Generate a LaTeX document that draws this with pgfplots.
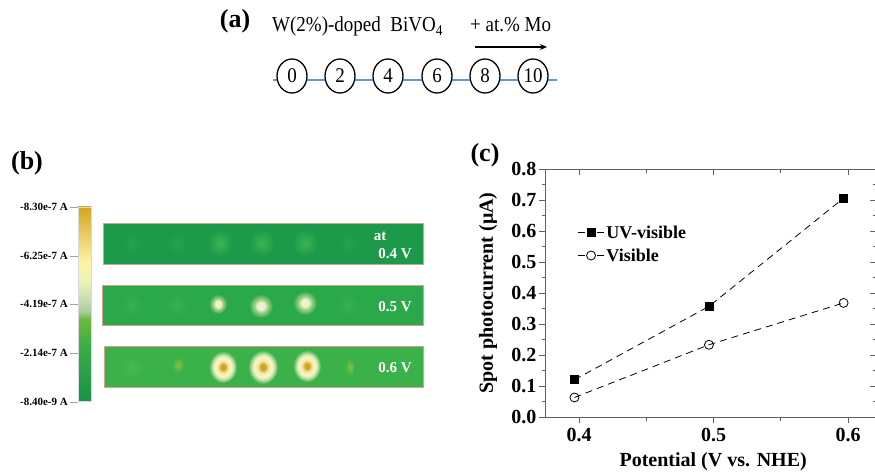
\documentclass[border=0pt]{standalone}
\usepackage{pgfplots}
\pgfplotsset{compat=1.18}
\usepackage{fontspec}
\setmainfont{Liberation Serif}
\usetikzlibrary{arrows.meta}
\newcommand\fs[1]{\fontsize{#1}{#1}\selectfont}

\definecolor{lineblue}{HTML}{5B9BD5}
\definecolor{sone}{HTML}{1C9A49}
\definecolor{stwo}{HTML}{2BA94A}
\definecolor{sthree}{HTML}{3BB14A}
\definecolor{spgold}{HTML}{D4A024}
\definecolor{spyel}{HTML}{F3E9A0}
\definecolor{spcream}{HTML}{F8F6CC}
\definecolor{spwhite}{HTML}{EEF2D2}
\definecolor{spmid}{HTML}{A6D48A}
\definecolor{border}{HTML}{D8A090}
\definecolor{cbA}{HTML}{17934A}
\definecolor{cbB}{HTML}{3BAD48}
\definecolor{cbC}{HTML}{6CB83C}
\definecolor{cbD}{HTML}{A8CC98}
\definecolor{cbE}{HTML}{C4D8B4}
\definecolor{cbF}{HTML}{EAF2B4}
\definecolor{cbG}{HTML}{FBF5A6}
\definecolor{cbH}{HTML}{ECCD6A}
\definecolor{cbI}{HTML}{D4A520}
\definecolor{axgray}{HTML}{606060}
\definecolor{fone}{HTML}{27A24E}
\definecolor{fonebig}{HTML}{3DB454}
\definecolor{ftwo}{HTML}{38B050}
\definecolor{fthree}{HTML}{4AB94E}
\definecolor{fthreey}{HTML}{86C23C}

\pgfdeclareradialshading{bigspot}{\pgfpointorigin}{color(0bp)=(spgold); color(4bp)=(spgold); color(9bp)=(spyel); color(15bp)=(spcream); color(19bp)=(spcream!70!sthree); color(25bp)=(sthree); color(50bp)=(sthree)}
\pgfdeclareradialshading{midspot}{\pgfpointorigin}{color(0bp)=(spwhite); color(8bp)=(spwhite); color(13bp)=(spmid); color(25bp)=(stwo); color(50bp)=(stwo)}
\pgfdeclareverticalshading{cbar}{100bp}{color(0bp)=(cbA); color(25bp)=(cbA); color(39bp)=(cbB); color(46bp)=(cbC); color(48bp)=(cbD); color(50.5bp)=(cbE); color(55.5bp)=(cbF); color(60.5bp)=(cbG); color(67.5bp)=(cbH); color(75bp)=(cbI); color(100bp)=(cbI)}

\begin{document}
\begin{tikzpicture}
\begin{scope}[x=1pt,y=-1pt]
% ---------- panel (a)
\node[font=\fs{26}\bfseries] at (235,21) {(a)};
\node[font=\fs{19}, anchor=base west, inner sep=0pt, yscale=1.12] at (272,32) {W(2\%)-doped\ \ BiVO\textsubscript{4}};
\node[font=\fs{19}, anchor=base west, inner sep=0pt, yscale=1.12] at (470,32) {+ at.\% Mo};
\draw[line width=1.4pt, -{Stealth[length=7pt,width=6pt]}] (475,47) -- (547,47);
\draw[lineblue, line width=1.6pt] (273,80) -- (557,80);
\foreach \x/\t in {292/0,340/2,388/4,437/6,485/8,533/10}{
  \draw[black, line width=1.3pt, fill=white] (\x,76) ellipse (15 and 17);
  \node[font=\fs{19}, yscale=1.1] at (\x,76) {\t};
}
% ---------- panel (b)
\node[font=\fs{26}\bfseries] at (27,163) {(b)};
\shade[shading=cbar] (78,207) rectangle (91,401);
\draw[black!15, line width=0.4pt] (78,207) rectangle (91,401);
\foreach \y/\t in {207/-8.30e-7 A,256/-6.25e-7 A,304/-4.19e-7 A,353/-2.14e-7 A,402/-8.40e-9 A}{
  \draw[blue!30!gray!60, line width=0.8pt] (70,\y) -- (78,\y);
  \node[font=\fs{11}\bfseries, anchor=east, inner sep=0pt] at (68,\y) {\t};
}
% strip 1
\fill[sone] (103,223) rectangle (423,264);
\foreach \x in {132,177,348}{\shade[inner color=fone, outer color=sone] (\x,243) ellipse (10 and 11);}
\foreach \x in {220,262,305}{\shade[inner color=fonebig, outer color=sone] (\x,243) ellipse (13 and 14);}
\draw[border, line width=0.6pt] (103,223) rectangle (423,264);
\node[font=\fs{15}\bfseries, text=white] at (380,236) {at};
\node[font=\fs{15}\bfseries, text=white] at (395,254) {0.4 V};
% strip 2
\fill[stwo] (102,285) rectangle (423,325);
\foreach \x in {132,177,348}{\shade[inner color=ftwo, outer color=stwo] (\x,305) ellipse (10 and 11);}
\shade[shading=midspot] (218,304) ellipse (9 and 10);
\shade[shading=midspot] (261,306) ellipse (12 and 12);
\shade[shading=midspot] (305,303) ellipse (12 and 12);
\draw[border, line width=0.6pt] (102,285) rectangle (423,325);
\node[font=\fs{15}\bfseries, text=white] at (395,307) {0.5 V};
% strip 3
\fill[sthree] (104,346) rectangle (423,387);
\shade[inner color=fthree, outer color=sthree] (132,367) ellipse (10 and 11);
\shade[inner color=fthreey, outer color=sthree] (178,365) ellipse (6 and 8);
\shade[inner color=fthreey, outer color=sthree] (350,367) ellipse (5 and 8);
\shade[shading=bigspot] (223,367) ellipse (14 and 16);
\shade[shading=bigspot] (263,367) ellipse (15 and 17);
\shade[shading=bigspot] (307,366) ellipse (14 and 16);
\draw[border, line width=0.6pt] (104,346) rectangle (423,387);
\node[font=\fs{15}\bfseries, text=white] at (395,368) {0.6 V};
% ---------- panel (c) label
\node[font=\fs{26}\bfseries] at (485,155) {(c)};
\end{scope}

\pgfplotsset{
  myaxis/.style={
    at={(545pt,-417pt)}, anchor=south west, scale only axis,
    width=331pt, height=248pt,
    xmin=0.3747, xmax=0.6208, ymin=0, ymax=0.8,
    xtick={0.4,0.5,0.6}, ytick={0,0.1,0.2,0.3,0.4,0.5,0.6,0.7,0.8},
    minor x tick num=1, minor y tick num=1,
    major tick length=6pt, minor tick length=3.5pt,
    axis line style={draw=axgray, line width=1pt},
    every tick/.style={axgray, line width=0.9pt},
    ticklabel style={font=\fs{20}\bfseries},
    /pgf/number format/assume math mode=true,
    /pgf/number format/.cd, fixed, fixed zerofill, precision=1,
  }
}
\begin{axis}[myaxis, tick align=outside, xtick pos=lower, ytick pos=left,
  xticklabel style={yshift=-2pt},
  yticklabel style={xshift=1pt},
  xlabel={Potential (V vs. NHE)},
  ylabel={Spot photocurrent (μA)},
  xlabel style={at={(axis description cs:0.508,-0.181)}, anchor=center, font=\fs{20}\bfseries},
  ylabel style={at={(axis description cs:-0.172,0.5)}, anchor=center, font=\fs{20}\bfseries},
  legend style={at={(0.095,0.785)}, anchor=north west, draw=none, fill=none, font=\fs{18}\bfseries, row sep=5pt, inner sep=1pt},
  legend cell align=left,
  legend image code/.code={\draw[#1, dash pattern=on 7pt off 12pt, mark repeat=2, mark phase=2] plot coordinates {(0pt,0pt)(13pt,0pt)(26pt,0pt)};},
]
\addplot[black, line width=0.8pt, dash pattern=on 7pt off 5pt, mark=square*, mark size=4pt, mark options={solid}] coordinates {(0.3966,0.120)(0.4966,0.357)(0.5967,0.706)};
\addlegendentry{UV-visible}
\addplot[black, line width=0.8pt, dash pattern=on 7pt off 5pt, mark=o, mark size=4.5pt, mark options={solid, fill=white}] coordinates {(0.3966,0.063)(0.4966,0.233)(0.5967,0.368)};
\addlegendentry{Visible}
\end{axis}
\begin{axis}[myaxis, tick align=inside, xtick pos=upper, ytick pos=right, xticklabels={}, yticklabels={}]
\end{axis}
\pgfresetboundingbox
\path[use as bounding box] (0pt,0pt) rectangle (875pt,-473pt);
\end{tikzpicture}
\end{document}
